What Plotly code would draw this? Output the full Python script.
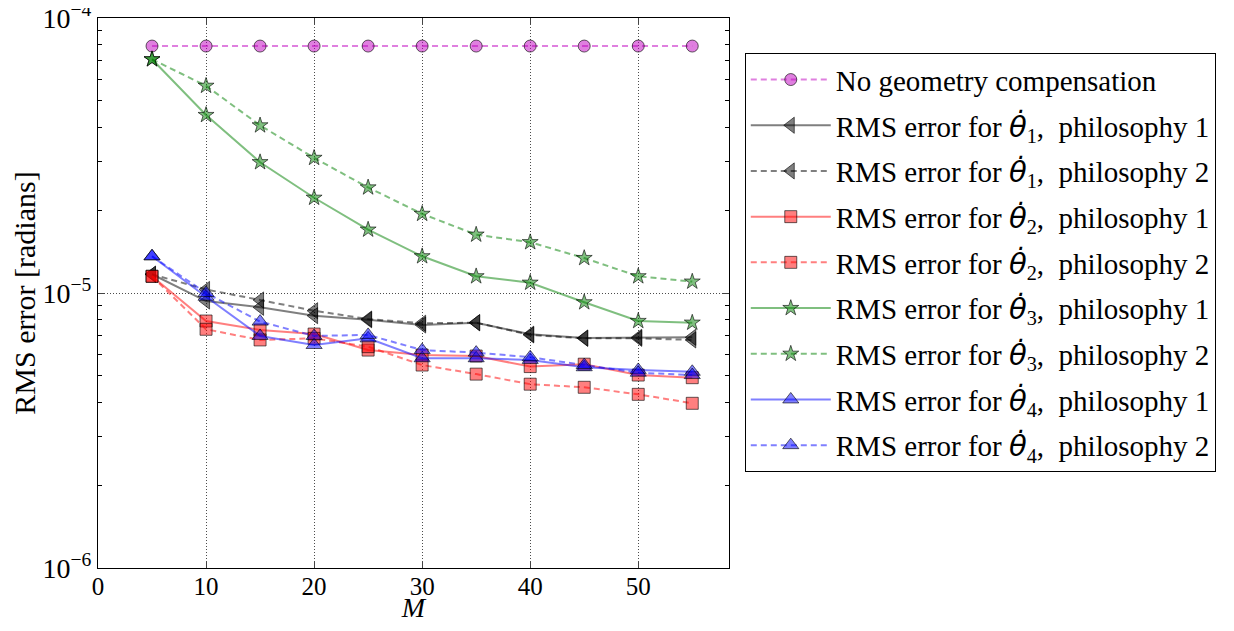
import plotly.graph_objects as go

M = [5, 10, 15, 20, 25, 30, 35, 40, 45, 50, 55]

no_comp = [7.91e-5] * 11
th1_p1 = [1.17e-5, 9.35e-6, 8.87e-6, 8.27e-6, 7.99e-6, 7.65e-6, 7.80e-6, 7.08e-6, 6.86e-6, 6.90e-6, 6.90e-6]
th1_p2 = [1.17e-5, 1.03e-5, 9.43e-6, 8.62e-6, 8.04e-6, 7.76e-6, 7.80e-6, 7.04e-6, 6.84e-6, 6.84e-6, 6.75e-6]
th2_p1 = [1.15e-5, 7.91e-6, 7.34e-6, 7.09e-6, 6.20e-6, 5.95e-6, 5.90e-6, 5.40e-6, 5.51e-6, 5.03e-6, 4.92e-6]
th2_p2 = [1.15e-5, 7.38e-6, 6.75e-6, 6.84e-6, 6.38e-6, 5.47e-6, 5.07e-6, 4.66e-6, 4.54e-6, 4.28e-6, 3.97e-6]
th3_p1 = [7.08e-5, 4.44e-5, 2.99e-5, 2.22e-5, 1.70e-5, 1.36e-5, 1.15e-5, 1.09e-5, 9.25e-6, 7.91e-6, 7.80e-6]
th3_p2 = [7.08e-5, 5.67e-5, 4.07e-5, 3.10e-5, 2.42e-5, 1.94e-5, 1.63e-5, 1.53e-5, 1.34e-5, 1.15e-5, 1.10e-5]
th4_p1 = [1.36e-5, 9.69e-6, 6.98e-6, 6.47e-6, 6.84e-6, 5.79e-6, 5.79e-6, 5.71e-6, 5.37e-6, 5.25e-6, 5.17e-6]
th4_p2 = [1.36e-5, 1.00e-5, 7.87e-6, 6.98e-6, 7.04e-6, 6.20e-6, 6.07e-6, 5.84e-6, 5.47e-6, 5.13e-6, 5.03e-6]

y_tickvals = [1e-6, 1e-5, 1e-4]
y_ticktext = ["10<sup>−6</sup>", "10<sup>−5</sup>", "10<sup>−4</sup>"]
x_tickvals = [0, 10, 20, 30, 40, 50]

FONT = "Liberation Serif"
THETA = "<span style='font-family:DejaVu Sans;font-style:italic'>θ̇</span>"

def lbl(i, p):
    return f"RMS error for {THETA}<sub>{i}</sub>,  philosophy {p}"

series = [
    ("No geometry compensation", no_comp, "rgba(191,0,191,0.5)", "circle", 12, "6px,4px"),
    (lbl(1, 1), th1_p1, "rgba(0,0,0,0.5)", "triangle-left", 14, "solid"),
    (lbl(1, 2), th1_p2, "rgba(0,0,0,0.5)", "triangle-left", 14, "6px,4px"),
    (lbl(2, 1), th2_p1, "rgba(255,0,0,0.5)", "square", 12, "solid"),
    (lbl(2, 2), th2_p2, "rgba(255,0,0,0.5)", "square", 12, "6px,4px"),
    (lbl(3, 1), th3_p1, "rgba(0,128,0,0.5)", "star", 12, "solid"),
    (lbl(3, 2), th3_p2, "rgba(0,128,0,0.5)", "star", 12, "6px,4px"),
    (lbl(4, 1), th4_p1, "rgba(0,0,255,0.5)", "triangle-up", 14, "solid"),
    (lbl(4, 2), th4_p2, "rgba(0,0,255,0.5)", "triangle-up", 14, "6px,4px"),
]

fig = go.Figure()
for i, (name, ys, col, sym, sz, dash) in enumerate(series):
    fig.add_trace(go.Scatter(
        x=M, y=ys, name=name, mode="lines+markers", legendgroup=f"g{i}",
        line=dict(color=col, width=2, dash=dash),
        marker=dict(symbol=sym, size=sz, color=col,
                    line=dict(color="rgba(0,0,0,0.6)", width=1)),
    ))

fig.update_layout(
    width=1218, height=615,
    margin=dict(l=90, r=493, t=10, b=55),
    paper_bgcolor="white", plot_bgcolor="white",
    font=dict(family=FONT, size=28, color="black"),
    showlegend=True,
    legend=dict(x=1.025, y=0.936, xanchor="left", yanchor="top",
                bordercolor="black", borderwidth=1,
                font=dict(family=FONT, size=29, color="black"),
                tracegroupgap=5, itemwidth=80),
)
fig.update_xaxes(
    range=[0, 58.4], tickvals=x_tickvals, ticks="inside", ticklen=6,
    showline=True, linecolor="black", linewidth=1, mirror="ticks",
    showgrid=True, gridcolor="rgba(0,0,0,0.7)", griddash="1px,2px", gridwidth=1,
    zeroline=False, automargin=False, ticklabeloverflow="allow",
    ticklabelstandoff=-4,
    title=dict(text="<i>M</i>", font=dict(family=FONT, size=28), standoff=0),
    tickfont=dict(family=FONT, size=25),
)
fig.update_yaxes(
    type="log", range=[-6.0002, -3.9998], tickvals=y_tickvals, ticktext=y_ticktext,
    ticks="inside", ticklen=7, automargin=False, ticklabeloverflow="allow",
    showline=True, linecolor="black", linewidth=1, mirror="ticks",
    showgrid=True, gridcolor="rgba(0,0,0,0.7)", griddash="1px,2px", gridwidth=1,
    minor=dict(ticks="inside", ticklen=4, tickcolor="black",
               tickvals=[k * 10**e for e in (-6, -5) for k in range(2, 10)],
               showgrid=False),
    title=dict(text="RMS error [radians]", font=dict(family=FONT, size=30), standoff=8),
    tickfont=dict(family=FONT, size=28),
)

fig.write_html("out.html")
